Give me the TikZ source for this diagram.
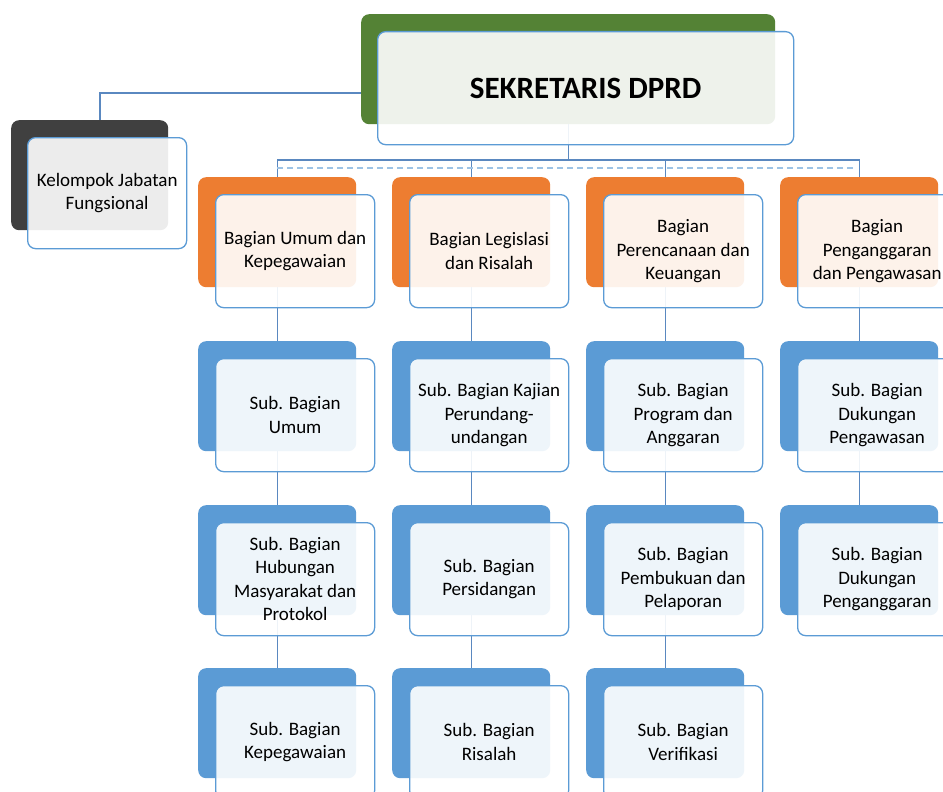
\documentclass[tikz,border=0pt]{standalone}
\usepackage{fontspec}
\setmainfont{Carlito}
\usetikzlibrary{calc}
\pgfdeclarelayer{bg}
\pgfsetlayers{bg,main}
\definecolor{cgreen}{HTML}{548235}
\definecolor{corange}{HTML}{ED7D31}
\definecolor{cblue}{HTML}{5B9BD5}
\definecolor{cdark}{HTML}{404040}
\definecolor{cline}{HTML}{5A88C0}
\definecolor{cdash}{HTML}{9DC3E6}
\tikzset{
  backbox/.style={rectangle, rounded corners=8pt, inner sep=0pt, anchor=north west,
    minimum width=158pt, minimum height=110pt, draw=none},
  frontbox/.style={rectangle, rounded corners=8pt, inner sep=0pt, anchor=north west,
    minimum width=159pt, minimum height=113pt, draw=cblue, line width=1.3pt,
    fill=white, fill opacity=0.9, draw opacity=1, text opacity=1, align=center,
    font=\fontsize{19}{23.5}\selectfont},
  conn/.style={draw=cline, line width=1.4pt},
  dashconn/.style={draw=cdash, line width=1.6pt, dash pattern=on 6pt off 4pt},
}
\newcommand\orgpair[5]{%
  \node[backbox, fill=#2] (#1b) at (#3,#4) {};
  \node[frontbox] (#1f) at (#3+17,#4+17) {#5};
}
\begin{document}
\begin{tikzpicture}[x=1pt,y=-1pt]
\useasboundingbox (0,0) rectangle (943,792);
% main
\node[backbox, fill=cgreen, minimum width=414pt] (mainb) at (361,14) {};
\node[frontbox, minimum width=416pt, font=\fontsize{31}{37}\selectfont\bfseries] (mainf) at (377,31) {SEKRETARIS DPRD};
% kelompok
\node[backbox, fill=cdark, minimum width=157pt] (kb) at (11,120) {};
\node[frontbox, minimum height=111pt] (kf) at (27,137) {Kelompok Jabatan\\Fungsional};
% column 1
\orgpair{c1r1}{corange}{198}{177}{Bagian Umum dan\\Kepegawaian}
\orgpair{c1r2}{cblue}{198}{341}{Sub. Bagian\\Umum}
\orgpair{c1r3}{cblue}{198}{505}{Sub. Bagian\\Hubungan\\Masyarakat dan\\Protokol}
\orgpair{c1r4}{cblue}{198}{668}{Sub. Bagian\\Kepegawaian}
% column 2
\orgpair{c2r1}{corange}{392}{177}{Bagian Legislasi\\dan Risalah}
\orgpair{c2r2}{cblue}{392}{341}{Sub. Bagian Kajian\\Perundang-\\undangan}
\orgpair{c2r3}{cblue}{392}{505}{Sub. Bagian\\Persidangan}
\orgpair{c2r4}{cblue}{392}{668}{Sub. Bagian\\Risalah}
% column 3
\orgpair{c3r1}{corange}{586}{177}{Bagian\\Perencanaan dan\\Keuangan}
\orgpair{c3r2}{cblue}{586}{341}{Sub. Bagian\\Program dan\\Anggaran}
\orgpair{c3r3}{cblue}{586}{505}{Sub. Bagian\\Pembukuan dan\\Pelaporan}
\orgpair{c3r4}{cblue}{586}{668}{Sub. Bagian\\Verifikasi}
% column 4
\orgpair{c4r1}{corange}{780}{177}{Bagian\\Penganggaran\\dan Pengawasan}
\orgpair{c4r2}{cblue}{780}{341}{Sub. Bagian\\Dukungan\\Pengawasan}
\orgpair{c4r3}{cblue}{780}{505}{Sub. Bagian\\Dukungan\\Penganggaran}
% connectors
\begin{pgfonlayer}{bg}
\fill[white] (0,0) rectangle (943,792);
\coordinate (bus) at (0,160);
\coordinate (dashy) at (0,168);
\coordinate (kj) at (100,93);
\draw[conn] (mainb.center) -- (mainb.center |- bus);
\draw[conn] (c1r1b.center) -- (c1r1b.center |- bus) -- (c4r1b.center |- bus) -- (c4r1b.center);
\draw[conn] (c2r1b.center) -- (c2r1b.center |- bus);
\draw[conn] (c3r1b.center) -- (c3r1b.center |- bus);
\draw[dashconn] (c1r1b.center |- dashy) -- ($(c4r1b.center |- dashy)+(-4,0)$);
\draw[conn] (c1r1b.center) -- (c1r2b.center) -- (c1r3b.center) -- (c1r4b.center);
\draw[conn] (c2r1b.center) -- (c2r2b.center) -- (c2r3b.center) -- (c2r4b.center);
\draw[conn] (c3r1b.center) -- (c3r2b.center) -- (c3r3b.center) -- (c3r4b.center);
\draw[conn] (c4r1b.center) -- (c4r2b.center) -- (c4r3b.center);
\draw[conn] (mainb.center |- kj) -- (kj) -- (kj |- kb.center);
\end{pgfonlayer}
\end{tikzpicture}
\end{document}
